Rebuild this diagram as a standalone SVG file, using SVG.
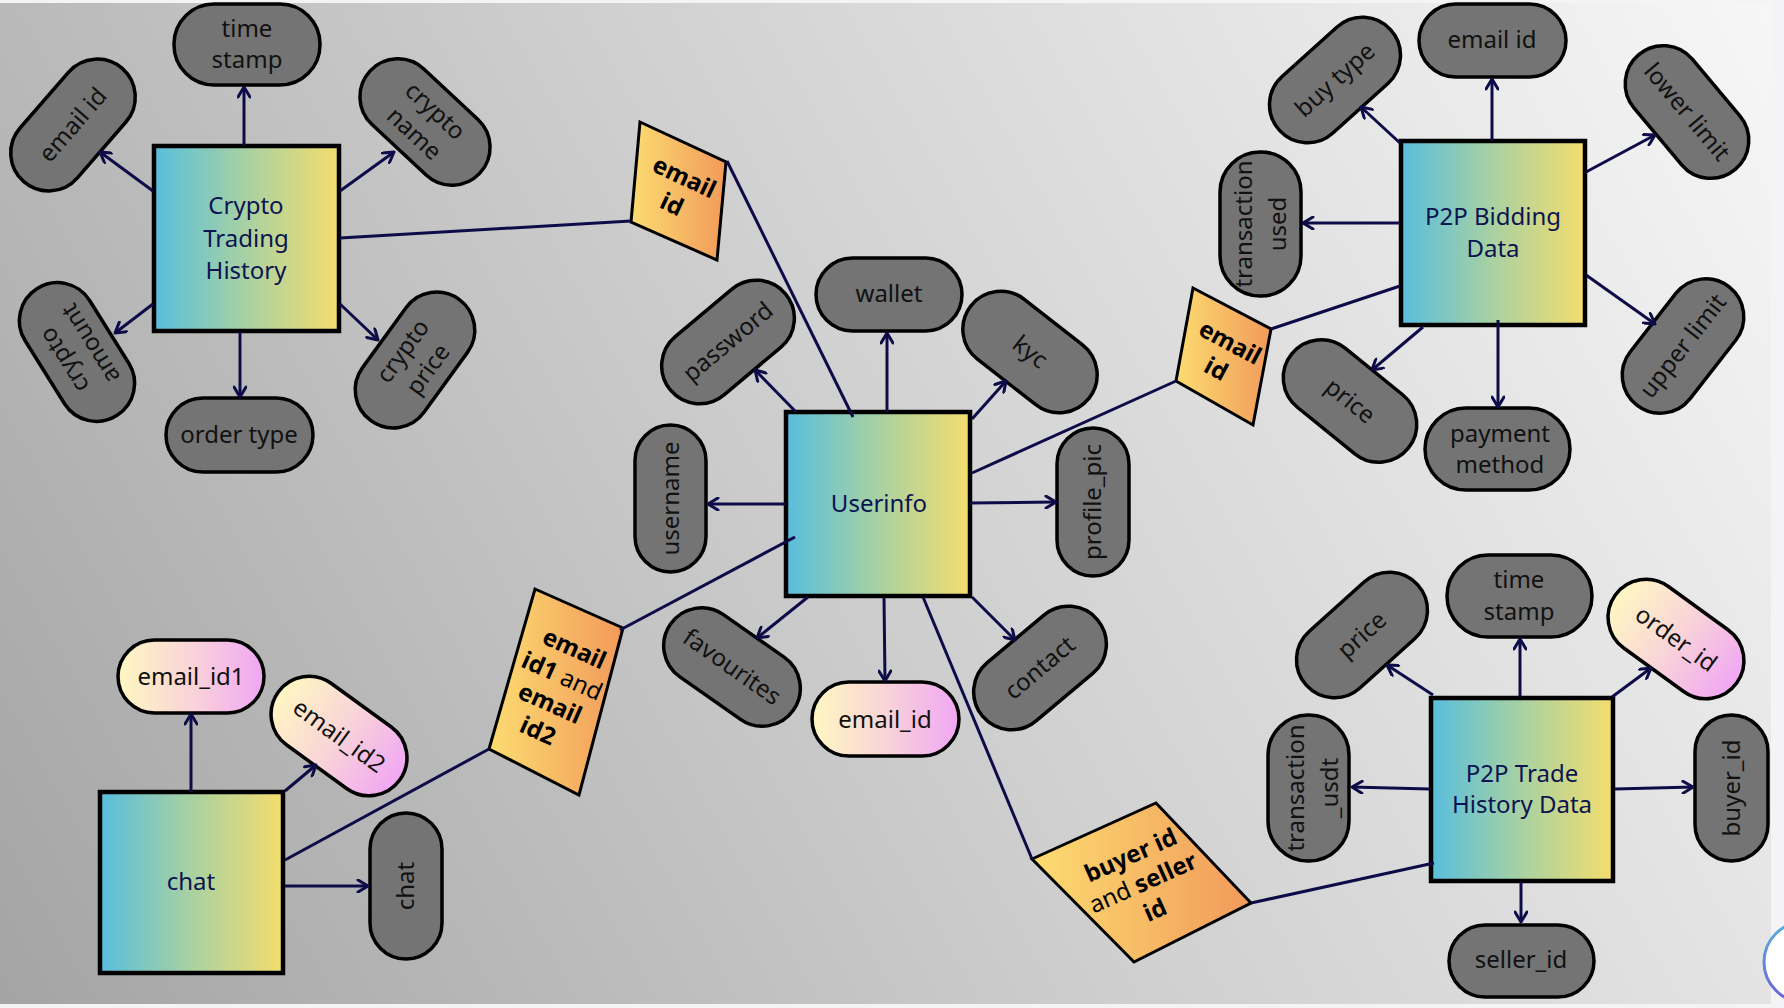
<svg xmlns="http://www.w3.org/2000/svg" width="1784" height="1008" viewBox="0 0 1784 1008">
<defs>
<linearGradient id="bg" gradientUnits="userSpaceOnUse" x1="0" y1="1008" x2="1784" y2="0">
<stop offset="0" stop-color="#a4a4a4"/><stop offset="0.5" stop-color="#d0d0d0"/><stop offset="1" stop-color="#f7f7f7"/>
</linearGradient>
<linearGradient id="box" x1="0" y1="0" x2="1" y2="0">
<stop offset="0" stop-color="#58bedd"/><stop offset="0.5" stop-color="#a9d1a1"/><stop offset="1" stop-color="#f4dd6e"/>
</linearGradient>
<linearGradient id="dia" x1="0" y1="0" x2="1" y2="0">
<stop offset="0" stop-color="#fcdc70"/><stop offset="1" stop-color="#f29a5b"/>
</linearGradient>
<linearGradient id="pastel" x1="0" y1="0" x2="1" y2="0">
<stop offset="0" stop-color="#fff7c2"/><stop offset="0.5" stop-color="#f9d4d8"/><stop offset="1" stop-color="#f0a6f4"/>
</linearGradient>
<linearGradient id="ring" x1="0" y1="0" x2="0" y2="1">
<stop offset="0" stop-color="#5ab0dc"/><stop offset="1" stop-color="#6a62d8"/>
</linearGradient>
<marker id="arr" markerUnits="userSpaceOnUse" viewBox="0 0 14 14" refX="12" refY="7" markerWidth="14" markerHeight="14" orient="auto">
<path d="M2,1 L12,7 L2,13" fill="none" stroke="#0e0c48" stroke-width="3" stroke-linecap="round" stroke-linejoin="round"/>
</marker>
<style>
text{font-family:"Noto Sans","Open Sans","DejaVu Sans",sans-serif;font-size:24px;text-anchor:middle}
.pill{fill:#747474;stroke:#000;stroke-width:3.5}
.pp{fill:url(#pastel);stroke:#000;stroke-width:3.5}
.ent{fill:url(#box);stroke:#000;stroke-width:4.5}
.dm{fill:url(#dia);stroke:#000;stroke-width:3}
.pt{fill:#111}
.et{fill:#0c1452}
.bt{fill:#000;font-weight:bold}
.rg{font-weight:normal}
.ln{stroke:#0e0c48;stroke-width:3;fill:none}
.ar{stroke:#0e0c48;stroke-width:3;fill:none;marker-end:url(#arr)}
</style>
</defs>
<rect x="0" y="0" width="1784" height="1008" fill="#f4f4f6"/>
<rect x="0" y="3" width="1771" height="1001" fill="url(#bg)"/>
<circle cx="1804" cy="962" r="40" fill="#ffffff" stroke="url(#ring)" stroke-width="3"/>

<!-- Crypto Trading History -->
<g id="cth">
<rect class="ent" x="154" y="146" width="185" height="185"/>
<text class="et" x="246" y="214">Crypto</text>
<text class="et" x="246" y="247">Trading</text>
<text class="et" x="246" y="279">History</text>
</g>
<g id="cth-timestamp"><rect class="pill" x="174" y="4" width="146" height="81" rx="40"/><text class="pt" x="247" y="37">time</text><text class="pt" x="247" y="68">stamp</text></g>
<g id="cth-emailid" transform="translate(73,125) rotate(-49)"><rect class="pill" x="-75" y="-38" width="150" height="76" rx="38"/><text class="pt" y="8">email id</text></g>
<g id="cth-cryptoname" transform="translate(425,122) rotate(43)"><rect class="pill" x="-75" y="-38" width="150" height="76" rx="38"/><text class="pt" y="-7">crypto</text><text class="pt" y="24">name</text></g>
<g id="cth-cryptoamount" transform="translate(77,352) rotate(-122)"><rect class="pill" x="-75" y="-38" width="150" height="76" rx="38"/><text class="pt" y="-7">crypto</text><text class="pt" y="24">amount</text></g>
<g id="cth-cryptoprice" transform="translate(415,360) rotate(-54)"><rect class="pill" x="-75" y="-38" width="150" height="76" rx="38"/><text class="pt" y="-7">crypto</text><text class="pt" y="24">price</text></g>
<g id="cth-ordertype"><rect class="pill" x="166" y="398" width="147" height="74" rx="37"/><text class="pt" x="239" y="443">order type</text></g>

<!-- Userinfo -->
<g id="userinfo">
<rect class="ent" x="786" y="412" width="184" height="184"/>
<text class="et" x="879" y="512">Userinfo</text>
</g>
<g id="ui-wallet"><rect class="pill" x="816" y="258" width="146" height="73" rx="36.5"/><text class="pt" x="889" y="302">wallet</text></g>
<g id="ui-password" transform="translate(728,342) rotate(-40)"><rect class="pill" x="-75" y="-38" width="150" height="76" rx="38"/><text class="pt" y="8">password</text></g>
<g id="ui-kyc" transform="translate(1030,352) rotate(38)"><rect class="pill" x="-75" y="-38" width="150" height="76" rx="38"/><text class="pt" y="8">kyc</text></g>
<g id="ui-username" transform="translate(670.5,498.5) rotate(-90)"><rect class="pill" x="-73.5" y="-35.5" width="147" height="71" rx="35.5"/><text class="pt" y="8">username</text></g>
<g id="ui-profilepic" transform="translate(1093,502) rotate(-90)"><rect class="pill" x="-74" y="-36" width="148" height="72" rx="36"/><text class="pt" y="8">profile_pic</text></g>
<g id="ui-favourites" transform="translate(732,667) rotate(35)"><rect class="pill" x="-75" y="-38" width="150" height="76" rx="38"/><text class="pt" y="8">favourites</text></g>
<g id="ui-emailid"><rect class="pp" x="812" y="682" width="147" height="74" rx="37"/><text class="pt" x="885" y="728">email_id</text></g>
<g id="ui-contact" transform="translate(1040,668) rotate(-40)"><rect class="pill" x="-75" y="-38" width="150" height="76" rx="38"/><text class="pt" y="8">contact</text></g>

<!-- P2P Bidding Data -->
<g id="bid">
<rect class="ent" x="1401" y="141" width="184" height="184"/>
<text class="et" x="1493" y="225">P2P Bidding</text>
<text class="et" x="1493" y="257">Data</text>
</g>
<g id="bid-emailid"><rect class="pill" x="1419" y="4" width="147" height="73" rx="36.5"/><text class="pt" x="1492" y="48">email id</text></g>
<g id="bid-buytype" transform="translate(1335,80) rotate(-42)"><rect class="pill" x="-75" y="-38" width="150" height="76" rx="38"/><text class="pt" y="8">buy type</text></g>
<g id="bid-transaction" transform="translate(1260.5,224) rotate(-90)"><rect class="pill" x="-72" y="-40.5" width="144" height="81" rx="40"/><text class="pt" y="-9">transaction</text><text class="pt" y="25">used</text></g>
<g id="bid-lowerlimit" transform="translate(1687,112) rotate(50)"><rect class="pill" x="-75" y="-38" width="150" height="76" rx="38"/><text class="pt" y="8">lower limit</text></g>
<g id="bid-upperlimit" transform="translate(1683,346) rotate(-52)"><rect class="pill" x="-75" y="-38" width="150" height="76" rx="38"/><text class="pt" y="8">upper limit</text></g>
<g id="bid-price" transform="translate(1350,401) rotate(39)"><rect class="pill" x="-75" y="-38" width="150" height="76" rx="38"/><text class="pt" y="8">price</text></g>
<g id="bid-payment"><rect class="pill" x="1425" y="408" width="145" height="82" rx="41"/><text class="pt" x="1500" y="442">payment</text><text class="pt" x="1500" y="473">method</text></g>

<!-- P2P Trade History Data -->
<g id="trade">
<rect class="ent" x="1431" y="698" width="182" height="183"/>
<text class="et" x="1522" y="782">P2P Trade</text>
<text class="et" x="1522" y="813">History Data</text>
</g>
<g id="tr-timestamp"><rect class="pill" x="1447" y="555" width="145" height="82" rx="41"/><text class="pt" x="1519" y="588">time</text><text class="pt" x="1519" y="620">stamp</text></g>
<g id="tr-price" transform="translate(1362,635) rotate(-42)"><rect class="pill" x="-75" y="-38" width="150" height="76" rx="38"/><text class="pt" y="8">price</text></g>
<g id="tr-orderid" transform="translate(1676,639) rotate(36)"><rect class="pp" x="-75" y="-38" width="150" height="76" rx="38"/><text class="pt" y="8">order_id</text></g>
<g id="tr-transaction" transform="translate(1308.5,788) rotate(-90)"><rect class="pill" x="-73" y="-40.5" width="146" height="81" rx="40"/><text class="pt" y="-5">transaction</text><text class="pt" y="29">_usdt</text></g>
<g id="tr-buyerid" transform="translate(1731.5,788) rotate(-90)"><rect class="pill" x="-73" y="-36.5" width="146" height="73" rx="36.5"/><text class="pt" y="8">buyer_id</text></g>
<g id="tr-sellerid"><rect class="pill" x="1449" y="925" width="145" height="72" rx="36"/><text class="pt" x="1521" y="968">seller_id</text></g>

<!-- chat -->
<g id="chat">
<rect class="ent" x="100" y="792" width="183" height="181"/>
<text class="et" x="191" y="890">chat</text>
</g>
<g id="chat-emailid1"><rect class="pp" x="118" y="640" width="146" height="73" rx="36.5"/><text class="pt" x="191" y="685">email_id1</text></g>
<g id="chat-emailid2" transform="translate(339,736) rotate(36)"><rect class="pp" x="-75" y="-38" width="150" height="76" rx="38"/><text class="pt" y="8">email_id2</text></g>
<g id="chat-chat" transform="translate(406,886) rotate(-90)"><rect class="pill" x="-73" y="-36" width="146" height="72" rx="36"/><text class="pt" y="8">chat</text></g>

<!-- relationship diamonds -->
<g id="rel-email1">
<polygon class="dm" points="640,122 726,162 717,260 631,222"/>
<g transform="translate(678,191) rotate(25)"><text class="bt" y="-7">email</text><text class="bt" y="23">id</text></g>
</g>
<g id="rel-email2">
<polygon class="dm" points="1193,288 1271,329 1253,425 1176,381"/>
<g transform="translate(1223,356) rotate(28)"><text class="bt" y="-7">email</text><text class="bt" y="23">id</text></g>
</g>
<g id="rel-email12">
<polygon class="dm" points="535,589 623,628 579,795 489,749"/>
<g transform="translate(556,690) rotate(24)"><text class="bt" y="-37">email</text><text class="bt" y="-7">id1 <tspan class="rg">and</tspan></text><text class="bt" y="23">email</text><text class="bt" y="53">id2</text></g>
</g>
<g id="rel-buyerseller">
<polygon class="dm" points="1032,859 1156,803 1251,903 1134,962"/>
<g transform="translate(1143,883) rotate(-24)"><text class="bt" y="-22">buyer id</text><text class="bt" y="8"><tspan class="rg">and</tspan> seller</text><text class="bt" y="38">id</text></g>
</g>

<g id="connectors">
<path class="ar" d="M244,146 L244,87"/>
<path class="ar" d="M153,191 L100,152"/>
<path class="ar" d="M340,191 L394,152"/>
<path class="ar" d="M153,304 L115,333"/>
<path class="ar" d="M340,304 L378,340"/>
<path class="ar" d="M240,332 L240,397"/>
<path class="ar" d="M887,412 L887,333"/>
<path class="ar" d="M796,412 L755,370"/>
<path class="ar" d="M972,419 L1006,381"/>
<path class="ar" d="M786,504 L708,504"/>
<path class="ar" d="M970,503 L1056,502"/>
<path class="ar" d="M808,597 L757,638"/>
<path class="ar" d="M884,597 L885,681"/>
<path class="ar" d="M972,597 L1015,640"/>
<path class="ar" d="M1492,141 L1492,79"/>
<path class="ar" d="M1400,143 L1361,107"/>
<path class="ar" d="M1400,223 L1303,223"/>
<path class="ar" d="M1586,172 L1655,135"/>
<path class="ar" d="M1586,275 L1655,324"/>
<path class="ar" d="M1423,327 L1372,370"/>
<path class="ar" d="M1498,320 L1498,407"/>
<path class="ar" d="M1520,697 L1520,639"/>
<path class="ar" d="M1433,695 L1387,665"/>
<path class="ar" d="M1612,697 L1651,668"/>
<path class="ar" d="M1429,789 L1352,787"/>
<path class="ar" d="M1615,789 L1693,787"/>
<path class="ar" d="M1521,882 L1521,922"/>
<path class="ar" d="M191,792 L191,714"/>
<path class="ar" d="M285,791 L316,765"/>
<path class="ar" d="M285,886 L368,886"/>
<path class="ln" d="M340,238 L631,221"/>
<path class="ln" d="M727,161 L853,417"/>
<path class="ln" d="M972,473 L1176,381"/>
<path class="ln" d="M1271,329 L1400,286"/>
<path class="ln" d="M795,537 L620,630"/>
<path class="ln" d="M285,860 L489,749"/>
<path class="ln" d="M923,597 L1032,859"/>
<path class="ln" d="M1251,903 L1434,863"/>
</g>
</svg>
